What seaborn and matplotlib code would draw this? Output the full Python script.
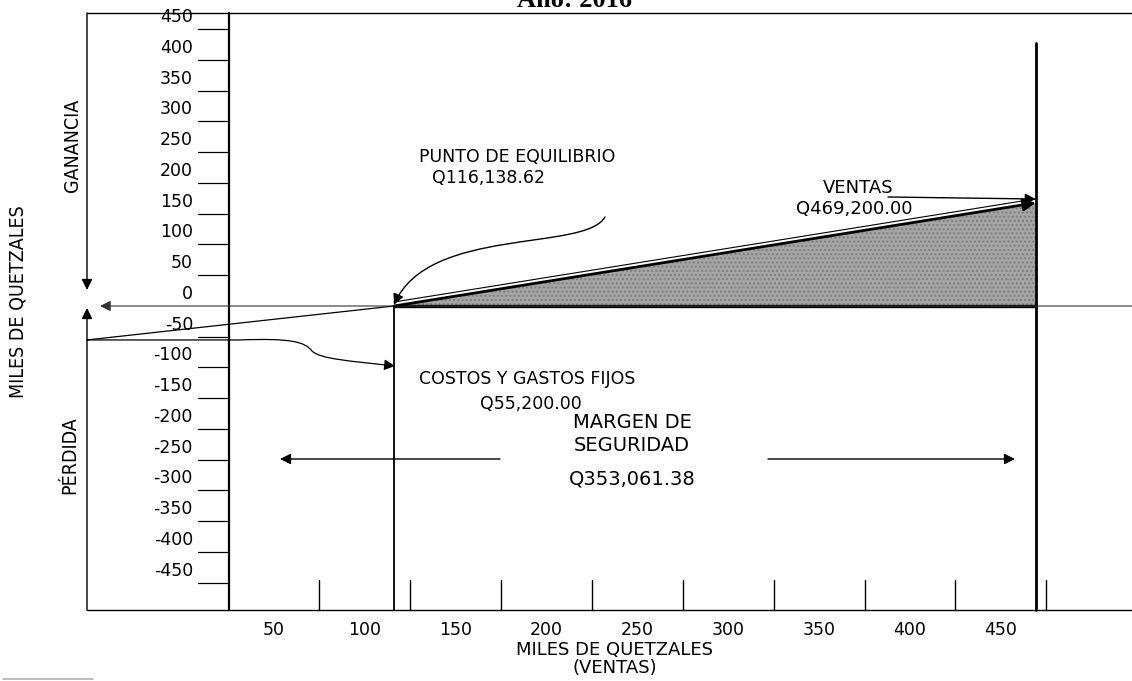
import matplotlib
matplotlib.use("Agg")
import matplotlib.pyplot as plt
import matplotlib.font_manager as fm
from matplotlib.path import Path
from matplotlib.patches import FancyArrowPatch
from matplotlib.transforms import offset_copy
import seaborn as sns

# Datos (miles de quetzales)
ventas = 469.2
punto_equilibrio = 116.13862
costos_fijos = 55.2
margen_seguridad = ventas - punto_equilibrio
razon_margen = costos_fijos / punto_equilibrio
utilidad = ventas * razon_margen - costos_fijos

y_ticks = [450, 400, 350, 300, 250, 200, 150, 100, 50, 0,
           -50, -100, -150, -200, -250, -300, -350, -400, -450]
x_ticks = [50, 100, 150, 200, 250, 300, 350, 400, 450]

txt_equilibrio = ["PUNTO DE EQUILIBRIO", "Q116,138.62"]
txt_ventas = ["VENTAS", "Q469,200.00"]
txt_costos = ["COSTOS Y GASTOS FIJOS", "Q55,200.00"]
txt_margen = ["MARGEN DE", "SEGURIDAD", "Q353,061.38"]

sns.set_theme(style="white")
plt.rcParams["font.family"] = "DejaVu Sans"
plt.rcParams["text.color"] = "black"

names = {f.name for f in fm.fontManager.ttflist}
narrow = "Liberation Sans Narrow" if "Liberation Sans Narrow" in names else "DejaVu Sans"

W, H = 1132, 681
fig = plt.figure(figsize=(W / 100, H / 100), dpi=100)
ax = fig.add_axes([0, 0, 1, 1])
ax.set_xlim(-183 / 1.8175, (W - 183) / 1.8175)
ax.set_ylim((306 - H) / 0.615, 306 / 0.615)
ax.axis("off")

x0, x1 = ax.get_xlim()
y0, y1 = ax.get_ylim()


def gx(p):
    return x0 + p / W * (x1 - x0)


def gy(p):
    return y1 - p / H * (y1 - y0)


k = "black"
arrow = dict(arrowstyle="-|>", color=k, lw=1.0, mutation_scale=16, shrinkA=0, shrinkB=0)

# marco
ax.plot([gx(87), gx(W)], [gy(13), gy(13)], color=k, lw=1.0)
ax.plot([gx(87), gx(W)], [gy(610), gy(610)], color=k, lw=1.0)
ax.plot([gx(229), gx(229)], [gy(13), gy(610)], color=k, lw=1.6)
ax.annotate("", xy=(gx(87), gy(290)), xytext=(gx(87), gy(13)), arrowprops=arrow)
ax.annotate("", xy=(gx(87), gy(308)), xytext=(gx(87), gy(610)), arrowprops=arrow)
ax.annotate("", xy=(gx(100), 0), xytext=(gx(W), 0),
            arrowprops=dict(arrow, lw=0.8, color="#333333"))
ax.plot([gx(3), gx(93)], [gy(679), gy(679)], color="#b0b0b0", lw=1.2)

# eje y
for v in y_ticks:
    if v != 0:
        ax.plot([gx(198), gx(229)], [v, v], color=k, lw=0.9)
    ax.text(gx(193), v + 5, str(v), ha="right", va="bottom", fontsize=12.5)

# eje x
mids = [(a + b) / 2 for a, b in zip(x_ticks[:-1], x_ticks[1:])] + [x_ticks[-1] + 25]
for m in mids:
    ax.plot([m, m], [gy(580), gy(610)], color=k, lw=1.0)
for v in x_ticks:
    ax.text(v, gy(630), str(v), ha="center", va="center", fontsize=12.5)

# area de ganancia
ax.fill_between([punto_equilibrio, ventas], [0, 0], [0, utilidad],
                facecolor="#a5a5a5", edgecolor="#7d7d7d", hatch="....", lw=0)
ax.plot([punto_equilibrio, ventas], [0, 0], color=k, lw=2.4)
ax.annotate("", xy=(ventas, utilidad), xytext=(punto_equilibrio, 0),
            arrowprops=dict(arrow, lw=2.0, mutation_scale=18))
ax.plot([punto_equilibrio, ventas], [0, utilidad], color=k, lw=0.8,
        transform=offset_copy(ax.transData, fig, y=4, units="dots"))
ax.plot([gx(87), punto_equilibrio], [-costos_fijos, 0], color=k, lw=0.9)

# lineas verticales
ax.plot([punto_equilibrio] * 2, [0, gy(610)], color=k, lw=1.3)
ax.plot([ventas] * 2, [gy(43), gy(610)], color=k, lw=2.0)

# flecha punto de equilibrio
p_eq = Path([(gx(605), gy(217)), (gx(585), gy(252)), (gx(428), gy(226)), (punto_equilibrio, 2)],
            [Path.MOVETO, Path.CURVE4, Path.CURVE4, Path.CURVE4])
ax.add_patch(FancyArrowPatch(path=p_eq, arrowstyle="-|>", color=k, lw=1.0, mutation_scale=16))

# flecha costos fijos
p_cf = Path([(gx(87), -costos_fijos), (gx(240), -costos_fijos), (gx(292), gy(338)),
             (gx(305), gy(342)), (gx(312), gy(351)), (gx(320), gy(359)),
             (gx(350), gy(361)), (gx(395), gy(366))],
            [Path.MOVETO, Path.LINETO, Path.CURVE4, Path.CURVE4, Path.CURVE4,
             Path.CURVE4, Path.CURVE4, Path.CURVE4])
ax.add_patch(FancyArrowPatch(path=p_cf, arrowstyle="-|>", color=k, lw=0.9, mutation_scale=16))

# flecha ventas
ax.annotate("", xy=(ventas, gy(199)), xytext=(gx(888), gy(197)), arrowprops=arrow)

# flechas margen de seguridad
ax.annotate("", xy=(gx(280), gy(459)), xytext=(gx(500), gy(459)), arrowprops=arrow)
ax.annotate("", xy=(gx(1015), gy(459)), xytext=(gx(768), gy(459)), arrowprops=arrow)

# textos
ax.text(gx(419), gy(157), txt_equilibrio[0], ha="left", va="center", fontsize=12.5)
ax.text(gx(432), gy(178), txt_equilibrio[1], ha="left", va="center", fontsize=12.5)
ax.text(gx(858), gy(188), txt_ventas[0], ha="center", va="center", fontsize=13)
ax.text(gx(854), gy(209), txt_ventas[1], ha="center", va="center", fontsize=13)
ax.text(gx(419), gy(379), txt_costos[0], ha="left", va="center", fontsize=12.5)
ax.text(gx(480), gy(404), txt_costos[1], ha="left", va="center", fontsize=12.5)
for t, yy in zip(txt_margen, [422, 446, 479]):
    ax.text(gx(632), gy(yy), t, ha="center", va="center", fontsize=14)

ax.text(gx(73), gy(145), "GANANCIA", rotation=90, ha="center", va="center",
        fontsize=14, family=narrow, stretch="condensed")
ax.text(gx(18), gy(302), "MILES DE QUETZALES", rotation=90, ha="center", va="center",
        fontsize=14, family=narrow, stretch="condensed")
ax.text(gx(70), gy(455), "PÉRDIDA", rotation=90, ha="center", va="center",
        fontsize=14, family=narrow, stretch="condensed")

ax.text(gx(615), gy(650), "MILES DE QUETZALES", ha="center", va="center", fontsize=13)
ax.text(gx(615), gy(668), "(VENTAS)", ha="center", va="center", fontsize=13)

ax.text(gx(574), gy(7), "Año: 2016", ha="center", va="baseline", fontsize=19,
        fontweight="bold", family="Liberation Serif")

fig.savefig("out.png", dpi=100)
